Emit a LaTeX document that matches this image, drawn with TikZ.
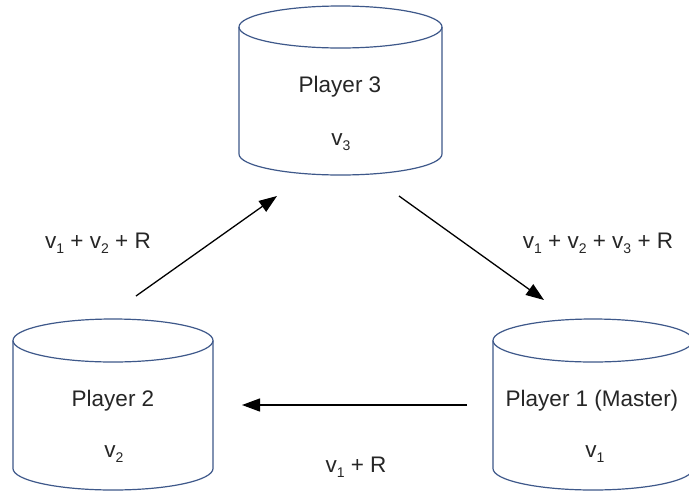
\documentclass[tikz,border=0pt]{standalone}
\usepackage{fontspec}
\setmainfont{Liberation Sans}
\usetikzlibrary{arrows.meta}
\definecolor{cylblue}{RGB}{62,88,138}
\newcommand\vsub[1]{v\raisebox{-0.45ex}{\fontsize{14}{14}\selectfont #1}}
\tikzset{
  cylline/.style={draw=cylblue, line width=1.2pt},
  lbl/.style={font=\fontsize{22.5}{27}\selectfont, inner sep=0pt, text=black!85},
  flow/.style={line width=1.3pt, -{Triangle[length=18pt,width=13pt]}}
}
\newcommand\drumshape[5]{% cx, topcenter y, bottomcenter y, rx, ry
  \draw[cylline] (#1-#4,#2) -- (#1-#4,#3) arc[start angle=180, end angle=0, x radius=#4, y radius=#5] -- (#1+#4,#2);
  \draw[cylline] (#1,#2) ellipse[x radius=#4, y radius=#5];
}
\begin{document}
\begin{tikzpicture}[x=1pt,y=-1pt]
\useasboundingbox (0,0) rectangle (689,491);
\fill[white] (0,0) rectangle (689,491);
% cylinders
\drumshape{340.5}{27}{154}{101.5}{21}
\drumshape{113}{340.5}{468.5}{100}{21.5}
\drumshape{593}{340.5}{468.5}{100}{21.5}
% texts
\node[lbl] (p3) at (340,87) {Player 3};
\node[lbl] (v3) at (341,142) {\vsub{3}};
\node[lbl] (p2) at (113,401) {Player 2};
\node[lbl] (v2) at (114,454) {\vsub{2}};
\node[lbl] (p1) at (592,401) {Player 1 (Master)};
\node[lbl] (v1) at (595,454) {\vsub{1}};
% arrow end points
\coordinate (a1s) at (136,296);
\coordinate (a1e) at (277,196);
\coordinate (a2s) at (399,196);
\coordinate (a2e) at (544,300);
\coordinate (a3s) at (467,405);
\coordinate (a3e) at (242,405);
\draw[flow] (a1s) -- (a1e);
\draw[flow] (a2s) -- (a2e);
\draw[flow] (a3s) -- (a3e);
% labels
\node[lbl] (l1) at (98,243) {\vsub{1} + \vsub{2} + R};
\node[lbl] (l2) at (598,243) {\vsub{1} + \vsub{2} + \vsub{3} + R};
\node[lbl] (l3) at (356,467) {\vsub{1} + R};
\end{tikzpicture}
\end{document}
